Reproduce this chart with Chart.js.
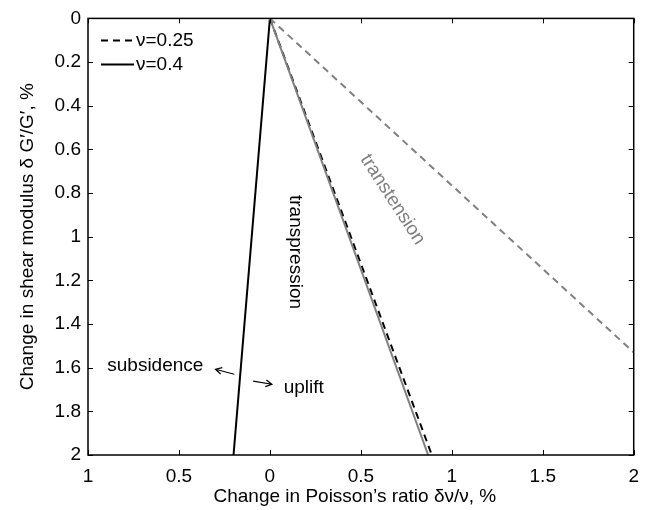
<!DOCTYPE html>
<html>
<head>
<meta charset="utf-8">
<script src="https://cdn.jsdelivr.net/npm/chart.js@4.4.1/dist/chart.umd.min.js"></script>
<style>
html,body{margin:0;padding:0;background:#fff;}
canvas{display:block;}
</style>
</head>
<body>
<canvas id="c" width="649" height="510"></canvas>
<script>
// ---- data ----
const legendLabels = ['ν=0.25', 'ν=0.4'];
const xTicks = [-1, -0.5, 0, 0.5, 1, 1.5, 2];
const yTicks = [0, 0.2, 0.4, 0.6, 0.8, 1, 1.2, 1.4, 1.6, 1.8, 2];
// solid black (nu=0.4), left boundary
const solidBlackX = [0, -0.2];
const solidBlackY = [0, 2];
// dashed black (nu=0.25)
const dashedBlackX = [0, 0.89];
const dashedBlackY = [0, 2];
// solid gray
const solidGrayX = [0, 0.87];
const solidGrayY = [0, 2];
// dashed gray (transtension boundary)
const dashedGrayX = [0, 2];
const dashedGrayY = [0, 1.53];

// text annotations
const annoText = ['subsidence', 'uplift', 'transpression', 'transtension'];
const annoX = [-0.63, 0.076, 0.14, 0.674];
const annoY = [1.59, 1.69, 1.07, 0.83];
const annoRot = [0, 0, 90, 57];
const annoColor = ['#000', '#000', '#000', '#7f7f7f'];
// arrows: from -> to
const arrowFromX = [-0.196, -0.092];
const arrowFromY = [1.630, 1.662];
const arrowToX = [-0.299, 0.011];
const arrowToY = [1.607, 1.676];

const xTitle = 'Change in Poisson’s ratio δν/ν, %';
const yTitle = 'Change in shear modulus δ G′/G′, %';

const pts = (xs, ys) => xs.map((x, i) => ({x: x, y: ys[i]}));
const GRAY = '#808080';
const FONT = '"Liberation Sans", Arial, Helvetica, sans-serif';

Chart.defaults.font.family = FONT;
Chart.defaults.font.size = 19;
Chart.defaults.color = '#000';

const decor = {
  id: 'decor',
  afterDatasetsDraw(chart) {
    const ctx = chart.ctx;
    const a = chart.chartArea;
    const xs = chart.scales.x, ys = chart.scales.y;
    ctx.save();
    // box
    ctx.strokeStyle = '#000';
    ctx.lineWidth = 1.5;
    ctx.strokeRect(a.left, a.top, a.right - a.left, a.bottom - a.top);
    // inward ticks
    ctx.lineWidth = 1;
    const tl = 5;
    ctx.beginPath();
    xs.ticks.forEach(t => {
      const px = Math.round(xs.getPixelForValue(t.value)) + 0.5;
      ctx.moveTo(px, a.bottom); ctx.lineTo(px, a.bottom - tl);
      ctx.moveTo(px, a.top); ctx.lineTo(px, a.top + tl);
    });
    ys.ticks.forEach(t => {
      const py = Math.round(ys.getPixelForValue(t.value)) + 0.5;
      ctx.moveTo(a.left, py); ctx.lineTo(a.left + tl, py);
      ctx.moveTo(a.right, py); ctx.lineTo(a.right - tl, py);
    });
    ctx.stroke();

    // legend
    const lx = a.left + 13, ly1 = a.top + 22, ly2 = a.top + 46;
    ctx.lineWidth = 2;
    ctx.strokeStyle = '#000';
    ctx.setLineDash([7, 5]);
    ctx.beginPath(); ctx.moveTo(lx, ly1); ctx.lineTo(lx + 33, ly1); ctx.stroke();
    ctx.setLineDash([]);
    ctx.beginPath(); ctx.moveTo(lx, ly2); ctx.lineTo(lx + 33, ly2); ctx.stroke();
    ctx.fillStyle = '#000';
    ctx.font = '19px ' + FONT;
    ctx.textAlign = 'left';
    ctx.textBaseline = 'middle';
    ctx.fillText(legendLabels[0], lx + 35, ly1);
    ctx.fillText(legendLabels[1], lx + 35, ly2);

    // annotations
    annoText.forEach((s, i) => {
      const px = xs.getPixelForValue(annoX[i]);
      const py = ys.getPixelForValue(annoY[i]);
      ctx.save();
      ctx.translate(px, py);
      ctx.rotate(annoRot[i] * Math.PI / 180);
      ctx.fillStyle = annoColor[i];
      ctx.textAlign = (i === 1) ? 'left' : 'center';
      ctx.textBaseline = 'middle';
      ctx.fillText(s, 0, 0);
      ctx.restore();
    });

    // arrows
    ctx.strokeStyle = '#000';
    ctx.lineWidth = 1.2;
    arrowFromX.forEach((fx, i) => {
      const x0 = xs.getPixelForValue(fx), y0 = ys.getPixelForValue(arrowFromY[i]);
      const x1 = xs.getPixelForValue(arrowToX[i]), y1 = ys.getPixelForValue(arrowToY[i]);
      const ang = Math.atan2(y1 - y0, x1 - x0);
      const h = 7, spread = 0.5;
      ctx.beginPath();
      ctx.moveTo(x0, y0); ctx.lineTo(x1, y1);
      ctx.moveTo(x1 - h * Math.cos(ang - spread), y1 - h * Math.sin(ang - spread));
      ctx.lineTo(x1, y1);
      ctx.lineTo(x1 - h * Math.cos(ang + spread), y1 - h * Math.sin(ang + spread));
      ctx.stroke();
    });

    // axis titles
    ctx.fillStyle = '#000';
    ctx.textAlign = 'center';
    ctx.textBaseline = 'middle';
    ctx.fillText(xTitle, (a.left + a.right) / 2 - 6, 497);
    ctx.save();
    ctx.translate(28, (a.top + a.bottom) / 2);
    ctx.rotate(-Math.PI / 2);
    ctx.fillText(yTitle, 0, 0);
    ctx.restore();
    ctx.restore();
  }
};

const fmt = v => String(Math.abs(Number(Number(v).toFixed(2))));

new Chart(document.getElementById('c'), {
  type: 'scatter',
  data: {
    datasets: [
      {data: pts(dashedGrayX, dashedGrayY), showLine: true, borderColor: GRAY, borderWidth: 2, borderDash: [7, 5], pointRadius: 0},
      {data: pts(solidGrayX, solidGrayY), showLine: true, borderColor: GRAY, borderWidth: 2, pointRadius: 0},
      {data: pts(dashedBlackX, dashedBlackY), showLine: true, borderColor: '#000', borderWidth: 2, borderDash: [7, 5], pointRadius: 0},
      {data: pts(solidBlackX, solidBlackY), showLine: true, borderColor: '#000', borderWidth: 2, pointRadius: 0}
    ]
  },
  options: {
    responsive: false,
    animation: false,
    layout: {padding: {top: 17, right: 6, left: 0, bottom: 0}},
    plugins: {legend: {display: false}, tooltip: {enabled: false}},
    scales: {
      x: {
        type: 'linear', min: xTicks[0], max: xTicks[xTicks.length - 1],
        afterBuildTicks: s => { s.ticks = xTicks.map(v => ({value: v})); },
        afterFit: s => { s.height = 55; },
        grid: {display: false, drawTicks: false},
        border: {display: false},
        ticks: {autoSkip: false, maxRotation: 0, padding: 10, callback: fmt, color: '#000'}
      },
      y: {
        type: 'linear', reverse: true, min: yTicks[0], max: yTicks[yTicks.length - 1],
        afterBuildTicks: s => { s.ticks = yTicks.map(v => ({value: v})); },
        afterFit: s => { s.width = 88; },
        grid: {display: false, drawTicks: false},
        border: {display: false},
        ticks: {autoSkip: false, padding: 7, callback: fmt, color: '#000'}
      }
    }
  },
  plugins: [decor]
});
</script>
</body>
</html>
